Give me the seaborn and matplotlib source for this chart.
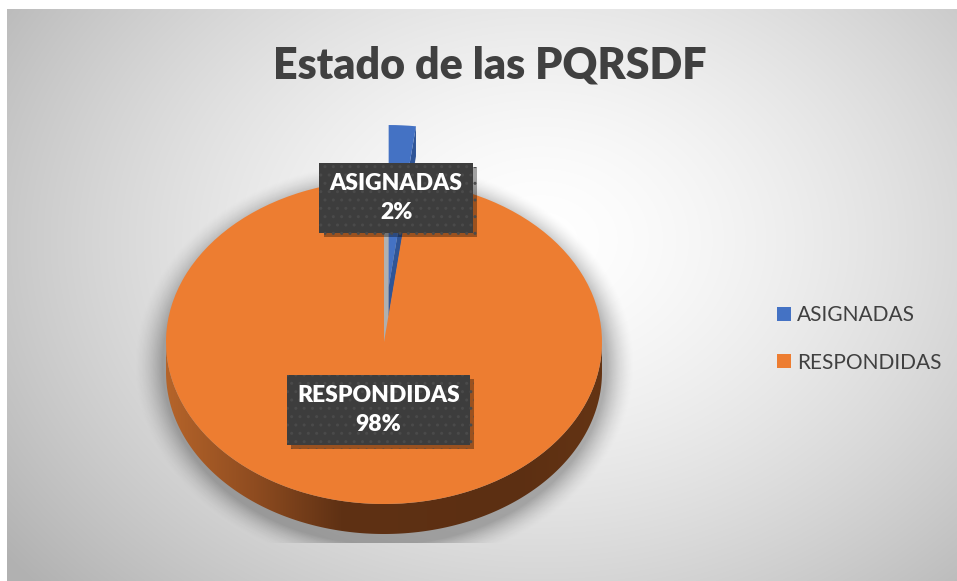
import numpy as np
import matplotlib
matplotlib.use("Agg")
import matplotlib.pyplot as plt
import seaborn as sns
from matplotlib.patches import Patch, Polygon
from matplotlib.colors import LinearSegmentedColormap
import matplotlib.patheffects as pe

# ---- data ----
categories = ["ASIGNADAS", "RESPONDIDAS"]
values = [2, 98]
pct_labels = ["2%", "98%"]
title = "Estado de las PQRSDF"

# ---- style ----
sns.set_theme(style="white")
plt.rcParams['font.family'] = ['Lato', 'DejaVu Sans']
colors = ["#4472C4", "#ED7D31"]
text_dark = "#404040"

W, H = 957, 581
fig = plt.figure(figsize=(W / 100, H / 100), dpi=100)
fig.patch.set_facecolor("white")

# ---- background radial gradient ----
bg = fig.add_axes([0, 0, 1, 1])
bg.set_axis_off()
bg.set_xlim(0, W)
bg.set_ylim(H, 0)
gx0, gy0 = 7, 9
yy, xx = np.mgrid[gy0:H, gx0:W]
cx, cy = 540, 240
rr = np.sqrt(((xx - cx) / 560.0) ** 2 + ((yy - cy) / 430.0) ** 2)
val = 1 - 0.23 * np.clip(rr, 0, 1.2) ** 1.5
img = np.dstack([val, val, val])
bg.imshow(img, extent=(gx0, W, H, gy0), aspect='auto', zorder=0, interpolation='bilinear')

# ---- soft shadow around the pie (clipped at plot-area bottom) ----
rx, ry = 218.0, 162.0       # pixels per unit
pcx, pcy = 384.0, 342.0     # centre in pixels from top-left
sh_y = 543
syy, sxx = np.mgrid[gy0:sh_y, gx0:W]
er = np.sqrt(((sxx - pcx) / (rx + 4)) ** 2 + ((syy - (pcy + 22)) / (ry + 18)) ** 2)
alpha = 0.28 * np.clip((1.13 - er) / 0.13, 0, 1) ** 1.6
shadow = np.zeros(er.shape + (4,))
shadow[..., 3] = alpha
bg.imshow(shadow, extent=(gx0, W, sh_y, gy0), aspect='auto', zorder=1, interpolation='bilinear')

# ---- pie axes (3D-ish squashed pie) ----
xl, xr = -1.5, 1.5
yb, yt = -1.35, 1.6
ax = fig.add_axes([(pcx + xl * rx) / W, (H - pcy + yb * ry) / H,
                   (xr - xl) * rx / W, (yt - yb) * ry / H])
ax.set_axis_off()

depth = 30.0 / ry

# side wall with horizontal gradient
th = np.linspace(np.pi, 2 * np.pi, 300)
side_x = np.concatenate([np.cos(th), np.cos(th[::-1])])
side_y = np.concatenate([np.sin(th), np.sin(th[::-1]) - depth])
side_poly = Polygon(np.column_stack([side_x, side_y]), closed=True,
                    facecolor='none', edgecolor='none')
ax.add_patch(side_poly)
side_cmap = LinearSegmentedColormap.from_list(
    "side", [(0.0, "#B5642A"), (0.2, "#8F4C20"), (0.4, "#5F3114"),
             (0.8, "#5C2F12"), (1.0, "#643414")])
grad = np.linspace(0, 1, 256).reshape(1, -1)
im = ax.imshow(grad, cmap=side_cmap, extent=(-1, 1, -1 - depth - 0.02, 0),
               aspect='auto', zorder=1)
im.set_clip_path(side_poly)

# top face via the library's pie
wedges, _ = ax.pie(values, colors=colors, startangle=90, counterclock=False,
                   explode=[0.34, 0.0], radius=1.0, center=(0, 0),
                   wedgeprops=dict(linewidth=0, zorder=3))
ax.set_aspect('auto')
ax.set_xlim(xl, xr)
ax.set_ylim(yb, yt)

# visible cut face of the exploded slice (darker blue)
bw = wedges[0]
cxw, cyw = bw.center
t = np.deg2rad(bw.theta1)
cut = Polygon([(cxw, cyw), (cxw + np.cos(t), cyw + np.sin(t)),
               (cxw + np.cos(t), cyw + np.sin(t) - depth), (cxw, cyw - depth)],
              closed=True, facecolor="#2F5597", edgecolor='none', zorder=2)
ax.add_patch(cut)

# data labels in dark boxes
label_dist = [0.55, 0.42]
for w, cat, pct, dist in zip(wedges, categories, pct_labels, label_dist):
    mid = np.deg2rad((w.theta1 + w.theta2) / 2)
    wx, wy = w.center
    lx, ly = wx + dist * np.cos(mid), wy + dist * np.sin(mid)
    txt = ax.text(lx, ly, f"{cat}\n{pct}", ha='center', va='center',
                  multialignment='center', color='white', fontsize=16.5,
                  fontweight='heavy', linespacing=1.45, zorder=10,
                  bbox=dict(boxstyle='square,pad=0.45', facecolor='#3D3D3D',
                            edgecolor='#4A4A4A', linewidth=0, hatch='..'))
    txt.get_bbox_patch().set_path_effects(
        [pe.SimplePatchShadow(offset=(3, -3), shadow_rgbFace='black', alpha=0.35),
         pe.Normal()])

# title
fig.text(490 / W, 1 - 78 / H, title, ha='center', va='baseline',
         fontsize=31, fontweight='heavy', color=text_dark)

# legend
handles = [Patch(facecolor=c, edgecolor='none') for c in colors]
leg = fig.legend(handles, categories, loc='center left',
                 bbox_to_anchor=(777 / W, 1 - 339 / H), frameon=False,
                 fontsize=15, handlelength=0.68, handleheight=0.68,
                 handletextpad=0.3, labelspacing=1.3, borderpad=0,
                 borderaxespad=0)
for tx in leg.get_texts():
    tx.set_color(text_dark)

fig.savefig("out.png", dpi=100, facecolor=fig.get_facecolor())
